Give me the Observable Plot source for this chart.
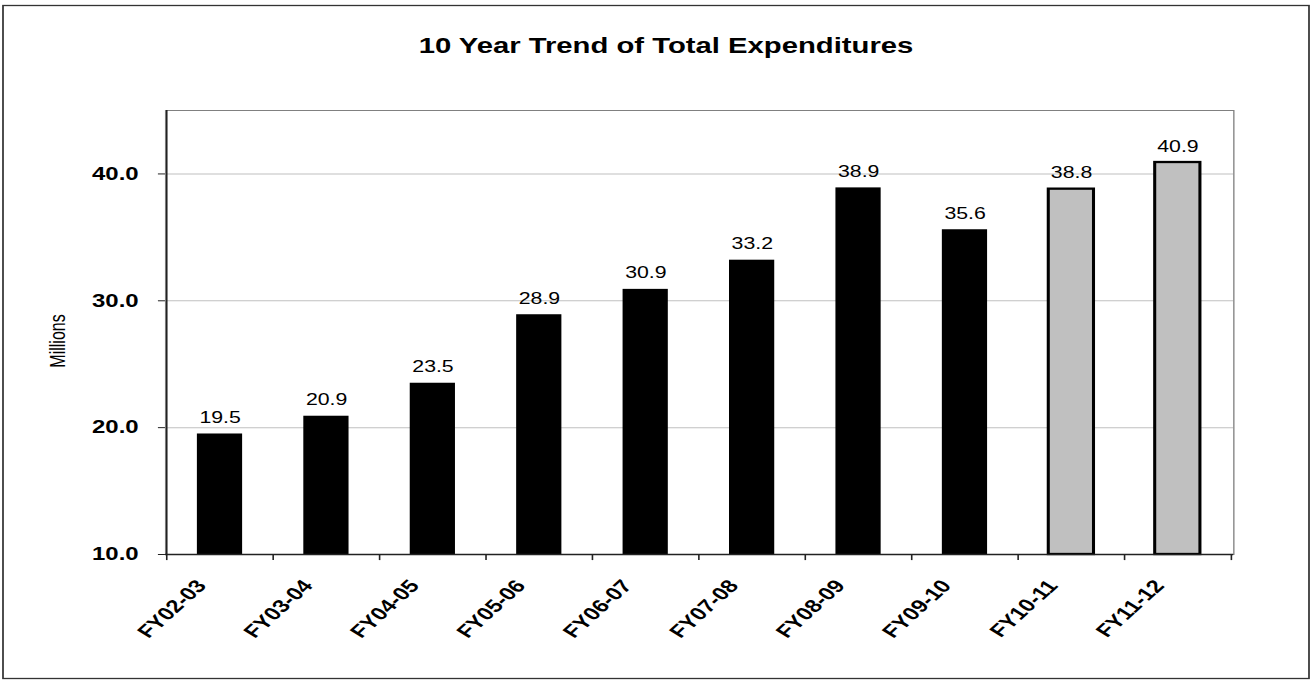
<!DOCTYPE html>
<html>
<head>
<meta charset="utf-8">
<script src="https://cdn.jsdelivr.net/npm/d3@7"></script>
<script src="https://cdn.jsdelivr.net/npm/@observablehq/plot@0.6"></script>
<style>
  html, body { margin: 0; padding: 0; background: #fff; overflow: hidden; }
  #chart svg { display: block; width: 1313px !important; height: 683px !important; max-width: none !important; }
</style>
</head>
<body>
<div id="chart"></div>
<script>
const titleText = "10 Year Trend of Total Expenditures";
const yLabel = "Millions";
const categories = ["FY02-03","FY03-04","FY04-05","FY05-06","FY06-07","FY07-08","FY08-09","FY09-10","FY10-11","FY11-12"];
const values = [19.5, 20.9, 23.5, 28.9, 30.9, 33.2, 38.9, 35.6, 38.8, 40.9];
const kinds = ["actual","actual","actual","actual","actual","actual","actual","actual","projected","projected"];
const yTicks = [10, 20, 30, 40];
const gridLines = [20, 30, 40];

const data = categories.map((c, i) => ({cat: c, value: values[i], kind: kinds[i]}));

// The reference is horizontally stretched (Excel export); draw in a narrower
// coordinate system and stretch the SVG to the 1313x683 window.
const W = 1313, H = 683;
const stretch = 1.3303;
const Wc = Math.round(W / stretch);           // 987
const mL = 124, mR = 60, mT = 110, mB = 129;
const step = (Wc - mL - mR) / categories.length;

function shiftX(offsetOf) {
  return (index, scales, values, dims, ctx, next) => {
    const g = next(index, scales, values, dims, ctx);
    d3.select(g).selectAll("line").each(function(_, j) {
      const x = +this.getAttribute("x1") + offsetOf(index[j]);
      this.setAttribute("x1", x); this.setAttribute("x2", x);
    });
    return g;
  };
}

const boundaries = categories.map(c => ({cat: c, side: -1}))
  .concat([{cat: categories[categories.length - 1], side: 1}]);

const chart = Plot.plot({
  width: Wc, height: H,
  marginLeft: mL, marginRight: mR, marginTop: mT, marginBottom: mB,
  style: {fontFamily: '"Liberation Sans", Arial, sans-serif', background: "#fff", color: "#000"},
  x: {domain: categories, paddingInner: 0.57, paddingOuter: 0.285, label: null},
  y: {domain: [10, 45], label: null},
  marks: [
    Plot.ruleY(gridLines, {stroke: "#c0c0c0", strokeWidth: 1}),
    Plot.frame({stroke: "#808080", strokeWidth: 1}),
    Plot.barY(data, {
      x: "cat", y1: 10, y2: "value",
      fill: d => d.kind === "actual" ? "#000" : "#c0c0c0",
      stroke: "#000",
      strokeWidth: d => d.kind === "actual" ? 0 : 2.3
    }),
    Plot.text(data, {x: "cat", y: "value", text: d => d.value.toFixed(1), dy: -16, fontSize: 16, fill: "#000"}),
    Plot.ruleY([10], {stroke: "#222", strokeWidth: 1.5}),
    Plot.ruleX([categories[0]], {x: d => d, y1: 10, y2: 45, stroke: "#222", strokeWidth: 1.2,
      render: shiftX(() => -step / 2)}),
    Plot.ruleX(boundaries, {x: "cat", y1: 9.52, y2: 10, stroke: "#222", strokeWidth: 1.2, clip: false,
      render: shiftX(i => boundaries[i].side * step / 2)}),
    Plot.axisY(yTicks, {tickSize: 5.3, tickPadding: 15, tickFormat: d => d.toFixed(1), fontSize: 18, fontWeight: "bold", stroke: "#222", label: null}),
    Plot.axisX({tickSize: 0, tickRotate: -50, tickPadding: 28, dx: -14, fontSize: 18, fontWeight: "bold", label: null})
  ]
});

const svg = d3.select(chart);
svg.attr("preserveAspectRatio", "none").attr("width", W).attr("height", H);
svg.append("rect").attr("x", 3 / stretch).attr("y", 5.5).attr("width", (W - 7) / stretch).attr("height", H - 10)
  .attr("fill", "none").attr("stroke", "#333").attr("stroke-width", 1.3);
svg.append("text").attr("x", 666 / stretch).attr("y", 53).attr("text-anchor", "middle")
  .attr("font-size", 22).attr("font-weight", "bold").text(titleText);
svg.append("text").attr("transform", `translate(${65 / stretch},341) rotate(-90)`).attr("text-anchor", "middle")
  .attr("font-size", 16).text(yLabel);

document.getElementById("chart").appendChild(chart);
</script>
</body>
</html>
